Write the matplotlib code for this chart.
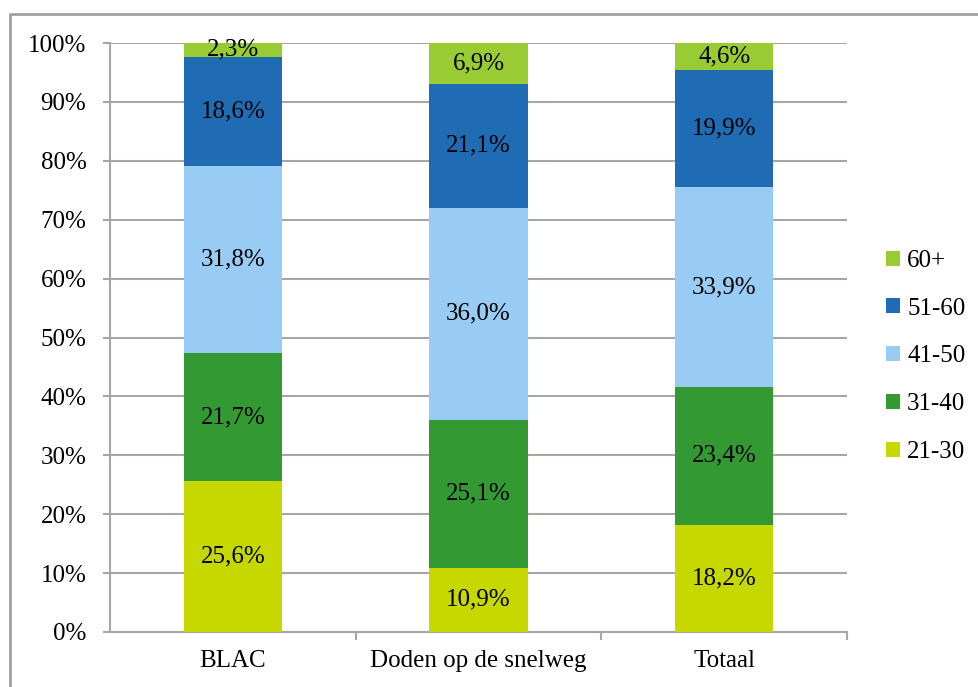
import matplotlib.pyplot as plt
from matplotlib.lines import Line2D
import numpy as np

plt.rcParams["font.family"] = ["Liberation Serif", "DejaVu Serif"]

categories = ["BLAC", "Doden op de snelweg", "Totaal"]
age_groups = ["21-30", "31-40", "41-50", "51-60", "60+"]
shares = {
    "21-30": [25.6, 10.9, 18.2],
    "31-40": [21.7, 25.1, 23.4],
    "41-50": [31.8, 36.0, 33.9],
    "51-60": [18.6, 21.1, 19.9],
    "60+": [2.3, 6.9, 4.6],
}
colors = {
    "21-30": "#C6D800",
    "31-40": "#339933",
    "41-50": "#99CCF5",
    "51-60": "#1F6BB4",
    "60+": "#99CC33",
}

grid_col = "#A6A6A6"
fs = 18

fig = plt.figure(figsize=(9.79, 6.87), dpi=100)
ax = fig.add_axes([110 / 979, 55 / 687, 737 / 979, 589 / 687])

x = np.arange(len(categories))
bottom = np.zeros(len(categories))
handles = []
for grp in age_groups:
    vals = np.array(shares[grp])
    bars = ax.bar(x, vals, 0.4, bottom=bottom, color=colors[grp], zorder=3, label=grp)
    for xi, b, v in zip(x, bottom, vals):
        ax.text(xi, b + v / 2, f"{v:.1f}%".replace(".", ","), ha="center",
                va="center", fontsize=fs, color="black", zorder=4)
    bottom += vals
    handles.append(bars)

ax.set_xlim(-0.5, 2.5)
ax.set_ylim(0, 100)
ax.set_yticks(np.arange(0, 101, 10))
ax.set_yticklabels([f"{t}%" for t in range(0, 101, 10)], fontsize=fs)
ax.yaxis.grid(True, color=grid_col, linewidth=1.5, zorder=0)

# category labels in the middle, ticks on the boundaries
ax.set_xticks([0.5, 1.5, 2.5])
ax.set_xticklabels([])
ax.set_xticks(x, minor=True)
ax.set_xticklabels(categories, minor=True, fontsize=fs)
ax.tick_params(axis="x", which="minor", length=0, pad=13)
ax.tick_params(axis="x", which="major", length=6, color=grid_col, width=1.5)
ax.tick_params(axis="y", length=5, color=grid_col, width=1.5, pad=12)

for side in ["top", "right"]:
    ax.spines[side].set_visible(False)
for side in ["left", "bottom"]:
    ax.spines[side].set_color(grid_col)
    ax.spines[side].set_linewidth(1.5)

leg = fig.legend(handles[::-1], age_groups[::-1], loc="upper left",
                 bbox_to_anchor=(886 / 979, 1 - 250 / 687), frameon=False,
                 fontsize=fs, handlelength=0.55, handleheight=0.55,
                 handletextpad=0.3, labelspacing=1.03, borderaxespad=0,
                 borderpad=0)

# outer frame: left and top edges only
fig.add_artist(Line2D([10 / 979, 10 / 979, 978 / 979],
                      [0, 1 - 14 / 687, 1 - 14 / 687],
                      transform=fig.transFigure, color="#A0A0A0", linewidth=2))

fig.savefig("out.png", dpi=100)
